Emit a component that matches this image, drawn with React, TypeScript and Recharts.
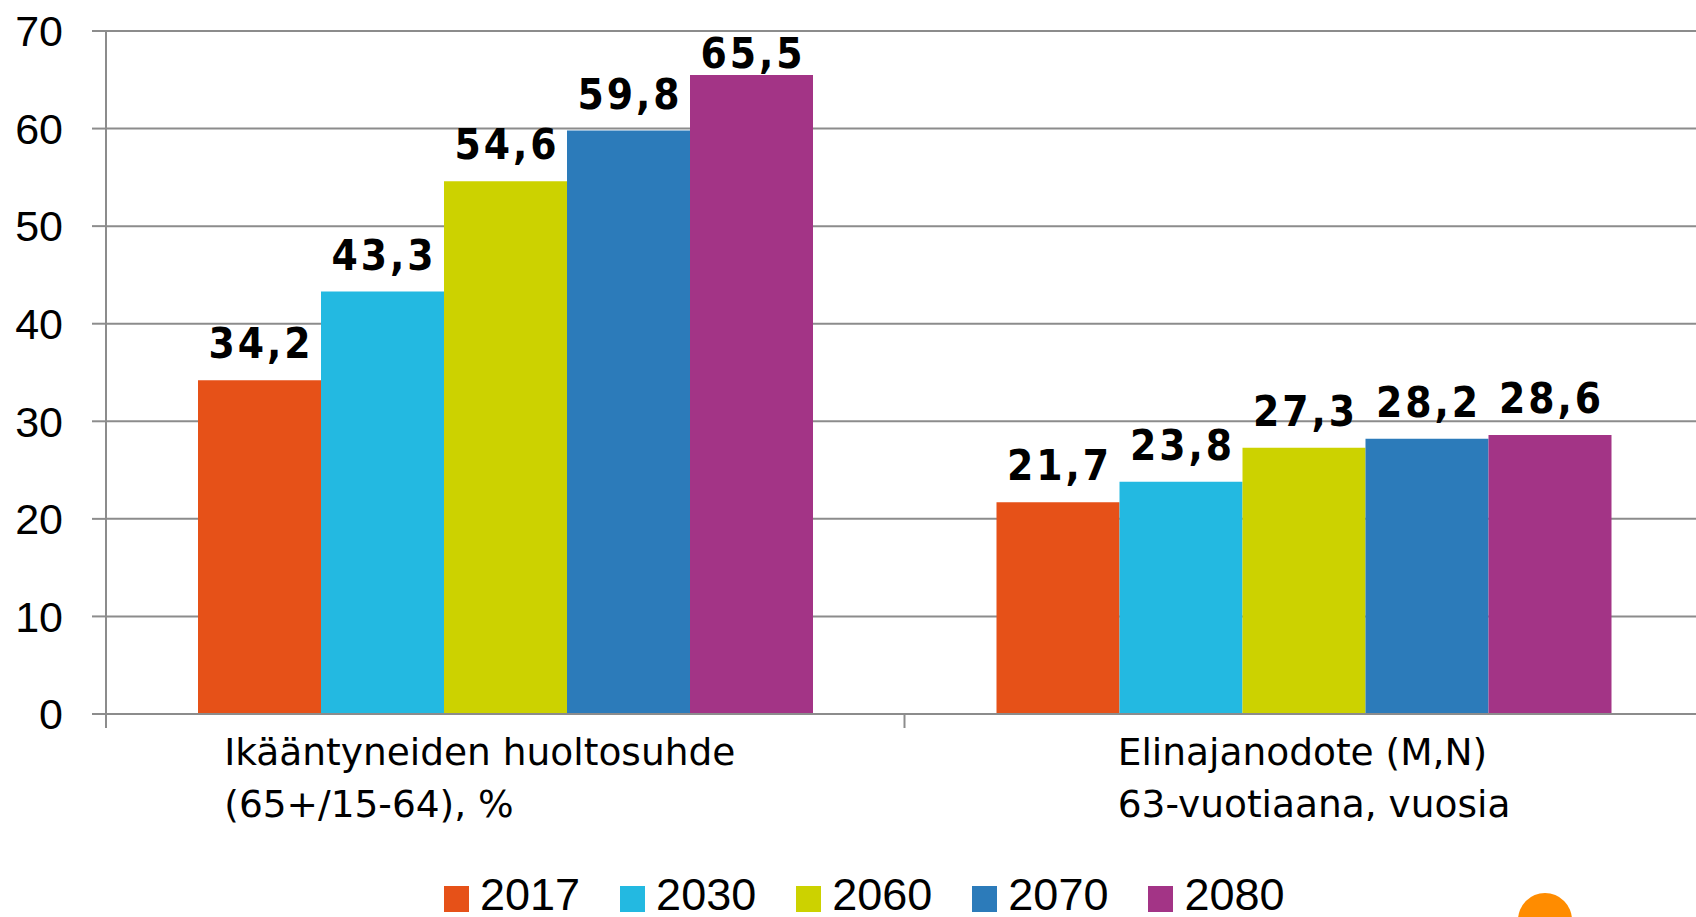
import React from "react";
import { BarChart, Bar, XAxis, YAxis, CartesianGrid, Legend, LabelList } from "recharts";

const categories = ["Ikääntyneiden huoltosuhde (65+/15-64), %", "Elinajanodote (M,N) 63-vuotiaana, vuosia"];
const categoryLine1 = ["Ikääntyneiden huoltosuhde", "Elinajanodote (M,N)"];
const categoryLine2 = ["(65+/15-64), %", "63-vuotiaana, vuosia"];
const years = ["2017", "2030", "2060", "2070", "2080"];
const v2017 = [34.2, 21.7];
const v2030 = [43.3, 23.8];
const v2060 = [54.6, 27.3];
const v2070 = [59.8, 28.2];
const v2080 = [65.5, 28.6];
const yTicks = [0, 10, 20, 30, 40, 50, 60, 70];

const seriesValues = [v2017, v2030, v2060, v2070, v2080];
const colors = ["#E65118", "#23B9E1", "#CCD200", "#2C7BBA", "#A33486"];

const data = categories.map((c, i) => {
  const row: any = { category: c };
  years.forEach((y, k) => {
    row["y" + y] = seriesValues[k][i];
  });
  return row;
});

const GRID = "#8c8c8c";
const labelDx = [-281, -186];

const XTick = (props: any) => {
  const { x, y, payload, index } = props;
  const off = payload && payload.offset ? payload.offset : 399.25;
  const i = categories.indexOf(payload.value);
  const idx = i >= 0 ? i : index;
  return (
    <g>
      <line x1={x - off} x2={x - off} y1={y} y2={y + 14} stroke={GRID} strokeWidth={2} />
      {idx === categories.length - 1 ? (
        <line x1={x + off} x2={x + off} y1={y} y2={y + 14} stroke={GRID} strokeWidth={2} />
      ) : null}
      <text x={x + labelDx[idx]} y={y + 51} textAnchor="start" fill="#000" fontSize={37.5} fontFamily='"DejaVu Sans", sans-serif'>
        {categoryLine1[idx]}
      </text>
      <text x={x + labelDx[idx]} y={y + 103} textAnchor="start" fill="#000" fontSize={37.5} fontFamily='"DejaVu Sans", sans-serif'>
        {categoryLine2[idx]}
      </text>
    </g>
  );
};

const LegendContent = () => (
  <div style={{ display: "flex", height: 60, paddingLeft: 444, alignItems: "flex-end", boxSizing: "border-box" }}>
    {years.map((y, k) => (
      <div key={y} style={{ display: "flex", alignItems: "flex-end", marginRight: 40 }}>
        <div style={{ width: 25, height: 26, background: colors[k], marginRight: 11, marginBottom: 5 }} />
        <span style={{ fontSize: 45, lineHeight: "45px", fontFamily: '"Liberation Sans", Arial, sans-serif', color: "#000" }}>{y}</span>
      </div>
    ))}
  </div>
);

const fmt = (v: any) => Number(v).toFixed(1).replace(".", ",");

const ValueLabel = (props: any) => {
  const { x, y, width, value } = props;
  const baseline = Math.max(Number(y) - 22, 68);
  return (
    <text
      x={Number(x) + Number(width) / 2 + 1.5}
      y={baseline}
      textAnchor="middle"
      fill="#000"
      fontSize={42}
      fontWeight="bold"
      letterSpacing={3}
      fontFamily='"DejaVu Sans Condensed", "DejaVu Sans", sans-serif'
    >
      {fmt(value)}
    </text>
  );
};

export default function App() {
  return (
    <div style={{ position: "fixed", left: 0, top: 0, width: 1696, height: 917, overflow: "hidden", background: "#fff" }}>
      <BarChart
        width={1710}
        height={917}
        data={data}
        margin={{ top: 31, right: 7, bottom: 0, left: 0 }}
        barCategoryGap={92}
        barGap={0}
      >
        <CartesianGrid vertical={false} stroke={GRID} strokeWidth={2} />
        <XAxis
          dataKey="category"
          height={143}
          tickLine={false}
          tickSize={0}
          tickMargin={0}
          axisLine={{ stroke: GRID, strokeWidth: 2 }}
          tick={<XTick />}
          interval={0}
        />
        <YAxis
          width={106}
          domain={[0, 70]}
          ticks={yTicks}
          tickSize={14}
          tickMargin={29}
          axisLine={{ stroke: GRID, strokeWidth: 2 }}
          tickLine={{ stroke: GRID, strokeWidth: 2 }}
          tick={{ fill: "#000", fontSize: 43, fontFamily: '"Liberation Sans", Arial, sans-serif' }}
        />
        <Legend verticalAlign="bottom" align="left" wrapperStyle={{ left: 0, bottom: 0, width: 1696, height: 60 }} content={<LegendContent />} />
        {years.map((y, k) => (
          <Bar key={y} dataKey={"y" + y} name={y} fill={colors[k]} isAnimationActive={false}>
            <LabelList dataKey={"y" + y} content={<ValueLabel />} />
          </Bar>
        ))}
      </BarChart>
      <div style={{ position: "absolute", left: 1518, top: 893, width: 54, height: 54, borderRadius: "50%", background: "#FF8C00" }} />
    </div>
  );
}
